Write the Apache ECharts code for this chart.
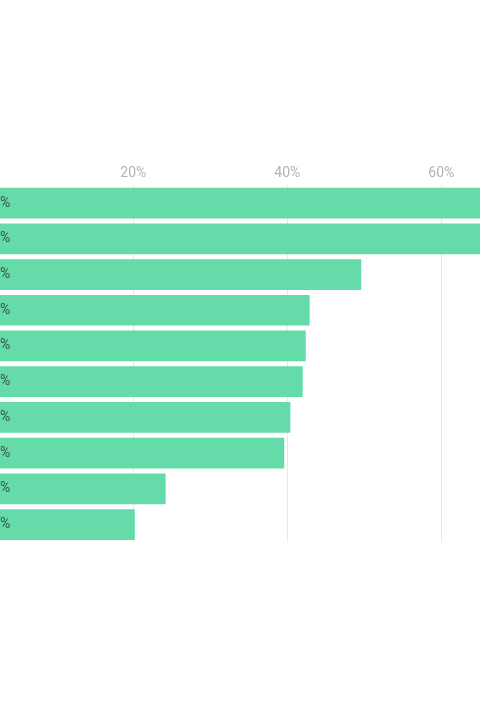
<!DOCTYPE html>
<html>
<head>
<meta charset="utf-8">
<script src="https://cdn.jsdelivr.net/npm/echarts@6/dist/echarts.min.js"></script>
<style>
html,body{margin:0;padding:0;background:#fff;overflow:hidden;width:480px;height:720px;}
#wrap{position:relative;width:480px;height:720px;overflow:hidden;}
#chart{position:absolute;left:-200px;top:0;width:820px;height:720px;}
</style>
</head>
<body>
<div id="wrap"><div id="chart"></div></div>
<script>
const categories = ['Category 1','Category 2','Category 3','Category 4','Category 5','Category 6','Category 7','Category 8','Category 9','Category 10'];
const values = [72.0, 69.0, 49.6, 42.9, 42.4, 42.0, 40.4, 39.6, 24.2, 20.2];
const tickValues = [0, 20, 40, 60, 80];

const chart = echarts.init(document.getElementById('chart'), null, {renderer: 'canvas'});
chart.setOption({
  animation: false,
  grid: {left: 179.3, right: 24.7, top: 185.2, height: 357.3, containLabel: false, outerBoundsMode: 'none'},
  xAxis: {
    type: 'value',
    position: 'top',
    min: tickValues[0],
    max: tickValues[tickValues.length - 1],
    interval: 20,
    axisLine: {show: false},
    axisTick: {show: false},
    axisLabel: {
      formatter: v => v + '%',
      color: '#b3b3b3',
      fontFamily: 'Roboto',
      fontSize: 14,
      margin: 5
    },
    splitLine: {show: true, lineStyle: {color: '#e8e8e8', width: 1}}
  },
  yAxis: {
    type: 'category',
    data: categories,
    inverse: true,
    axisLine: {show: false},
    axisTick: {show: false},
    axisLabel: {show: false}
  },
  series: [{
    type: 'bar',
    data: values,
    barCategoryGap: '14%',
    itemStyle: {color: '#66dbaa'},
    label: {
      show: true,
      position: 'insideLeft',
      distance: 5,
      formatter: p => Math.round(p.value) + '%',
      color: '#3a5247',
      fontFamily: 'Roboto',
      fontSize: 14
    }
  }]
});
</script>
</body>
</html>
